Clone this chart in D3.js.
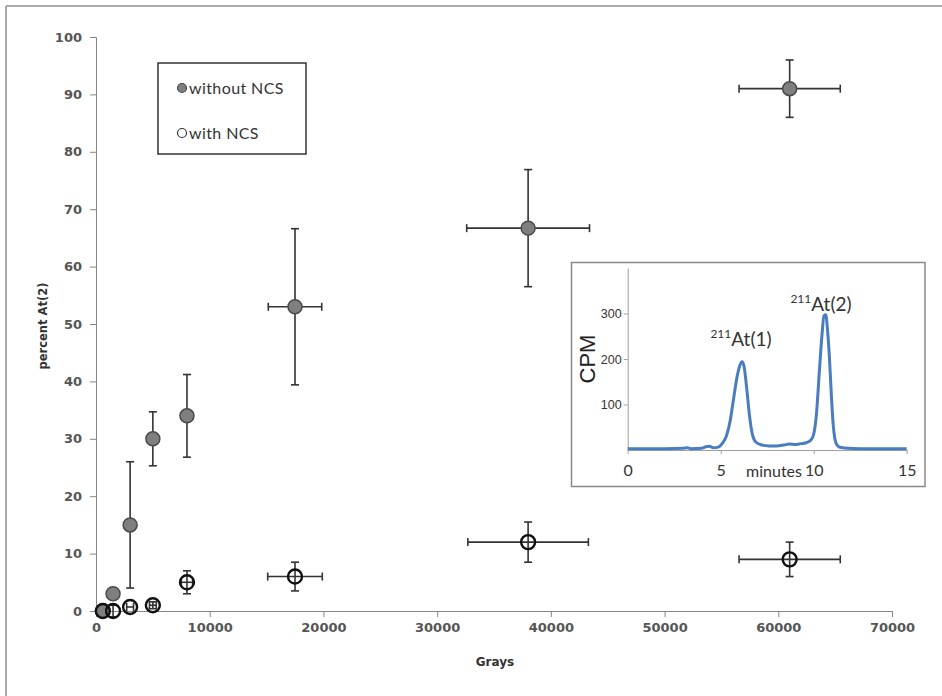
<!DOCTYPE html>
<html>
<head>
<meta charset="utf-8">
<script src="https://cdn.jsdelivr.net/npm/d3@7"></script>
<style>
  body { margin: 0; background: #fff; }
  svg { display: block; }
</style>
</head>
<body>
<div id="chart"></div>
<script>
// main chart data
const doses = [600, 1500, 3000, 5000, 8000, 17500, 38000, 61000];
const withoutNcs = [0, 3, 15, 30, 34, 53, 66.7, 91];
const withoutNcsYErr = [0, 0, 11, 4.7, 7.2, 13.6, 10.2, 5];
const withoutNcsXErr = [0, 0, 0, 0, 500, 2350, 5400, 4450];
const withNcs = [0, 0, 0.7, 1, 5, 6, 12, 9];
const withNcsYErr = [0, 1, 0, 0.6, 2, 2.5, 3.5, 3];
const withNcsXErr = [0, 0, 300, 300, 500, 2400, 5300, 4450];
const xTicks = [0, 10000, 20000, 30000, 40000, 50000, 60000, 70000];
const yTicks = [0, 10, 20, 30, 40, 50, 60, 70, 80, 90, 100];

// inset chromatogram
const chromTime = [0, 1, 2, 3, 3.2, 3.4, 4, 4.2, 4.4, 4.6, 4.9, 5.1, 5.3, 5.5, 5.7, 5.9, 6.05, 6.15, 6.25,
  6.4, 6.55, 6.7, 6.9, 7.2, 7.6, 8.0, 8.4, 8.7, 9.0, 9.3, 9.6, 9.85, 10.0, 10.15, 10.3, 10.45, 10.55,
  10.65, 10.75, 10.85, 10.95, 11.05, 11.2, 11.4, 11.8, 12.5, 13.5, 15];
const chromCpm = [3, 3, 3, 4, 5, 3, 4, 7, 8, 5, 7, 15, 30, 62, 115, 165, 188, 194, 185,
  135, 75, 35, 17, 11, 9, 9, 11, 13, 12, 14, 16, 22, 35, 80, 170, 255, 295,
  297, 260, 200, 120, 55, 15, 6, 4, 3, 3, 3];
const insetXTicks = [0, 5, 10, 15];
const insetYTicks = [100, 200, 300];

const W = 942, H = 696;
const font = "Lato, 'Open Sans', sans-serif";
const wide = "'DejaVu Sans', Verdana, sans-serif";
const arial = "Arial, 'Liberation Sans', sans-serif";
const axisGray = "#868686";

const svg = d3.select("#chart").append("svg")
  .attr("width", W).attr("height", H);

// outer frame (top + left edges visible)
svg.append("line").attr("x1", 6).attr("x2", W).attr("y1", 6).attr("y2", 6)
  .attr("stroke", "#aaa").attr("stroke-width", 2);
svg.append("line").attr("x1", 6).attr("x2", 6).attr("y1", 6).attr("y2", H)
  .attr("stroke", "#aaa").attr("stroke-width", 2);

const x = d3.scaleLinear().domain([0, 70000]).range([96, 892]);
const y = d3.scaleLinear().domain([0, 100]).range([611, 37]);

// axes
const xAxis = svg.append("g")
  .attr("transform", `translate(0, ${y(0)})`)
  .call(d3.axisBottom(x).tickValues(xTicks).tickSize(6).tickPadding(6).tickFormat(d3.format("d")));
const yAxis = svg.append("g")
  .attr("transform", `translate(${x(0)}, 0)`)
  .call(d3.axisLeft(y).tickValues(yTicks).tickSize(6).tickPadding(8));

[xAxis, yAxis].forEach(a => {
  a.select(".domain").attr("stroke", axisGray);
  a.selectAll(".tick line").attr("stroke", axisGray);
  a.selectAll(".tick text")
    .attr("fill", "#555")
    .style("font-family", wide)
    .style("font-size", "13px")
    .style("font-weight", "700");
});

svg.append("text")
  .attr("x", 495).attr("y", 666)
  .attr("text-anchor", "middle")
  .style("font-family", wide).style("font-size", "12px").style("font-weight", "700")
  .attr("fill", "#333")
  .text("Grays");

svg.append("text")
  .attr("transform", "translate(47, 326) rotate(-90)")
  .attr("text-anchor", "middle")
  .style("font-family", wide).style("font-size", "11.5px").style("font-weight", "700")
  .attr("fill", "#333")
  .text("percent At(2)");

// error bars + points
const cap = 4;
const drawSeries = (vals, yErr, xErr, fill, stroke, strokeW) => {
  const g = svg.append("g");
  doses.forEach((d, i) => {
    const cx = x(d), cy = y(vals[i]);
    const eg = g.append("g").attr("stroke", "#333").attr("stroke-width", 1.6);
    if (yErr[i] > 0) {
      const y1 = y(vals[i] + yErr[i]), y2 = y(vals[i] - yErr[i]);
      eg.append("line").attr("x1", cx).attr("x2", cx).attr("y1", y1).attr("y2", y2);
      eg.append("line").attr("x1", cx - cap).attr("x2", cx + cap).attr("y1", y1).attr("y2", y1);
      eg.append("line").attr("x1", cx - cap).attr("x2", cx + cap).attr("y1", y2).attr("y2", y2);
    }
    if (xErr[i] > 0) {
      const x1 = x(d - xErr[i]), x2 = x(d + xErr[i]);
      eg.append("line").attr("x1", x1).attr("x2", x2).attr("y1", cy).attr("y2", cy);
      eg.append("line").attr("x1", x1).attr("x2", x1).attr("y1", cy - cap).attr("y2", cy + cap);
      eg.append("line").attr("x1", x2).attr("x2", x2).attr("y1", cy - cap).attr("y2", cy + cap);
    }
  });
  g.selectAll("circle.pt")
    .data(doses)
    .join("circle")
    .attr("class", "pt")
    .attr("cx", d => x(d))
    .attr("cy", (d, i) => y(vals[i]))
    .attr("r", 7)
    .attr("fill", fill)
    .attr("stroke", stroke)
    .attr("stroke-width", strokeW);
};

drawSeries(withoutNcs, withoutNcsYErr, withoutNcsXErr, "#7f7f7f", "#4a4a4a", 1.5);
drawSeries(withNcs, withNcsYErr, withNcsXErr, "none", "#111", 2.4);

// legend
const legend = svg.append("g");
legend.append("rect")
  .attr("x", 158).attr("y", 63).attr("width", 148).attr("height", 91)
  .attr("fill", "#fff").attr("stroke", "#333").attr("stroke-width", 1.5);
legend.append("circle").attr("cx", 182).attr("cy", 88).attr("r", 4.5)
  .attr("fill", "#7f7f7f").attr("stroke", "#4a4a4a").attr("stroke-width", 1.2);
legend.append("circle").attr("cx", 182).attr("cy", 133).attr("r", 4.5)
  .attr("fill", "none").attr("stroke", "#333").attr("stroke-width", 1.2);
legend.append("text").attr("x", 189).attr("y", 93.5).text("without NCS");
legend.append("text").attr("x", 189).attr("y", 138.5).text("with NCS");
legend.selectAll("text")
  .style("font-family", font).style("font-size", "16px").style("letter-spacing", "0.4px")
  .attr("fill", "#333");

// inset chromatogram
const inset = svg.append("g");
inset.append("rect")
  .attr("x", 571.5).attr("y", 262.5).attr("width", 353.5).attr("height", 224)
  .attr("fill", "#fff").attr("stroke", "#8a8a8a").attr("stroke-width", 1.5);

const xi = d3.scaleLinear().domain([0, 15]).range([627.7, 906.7]);
const yi = d3.scaleLinear().domain([0, 400]).range([450, 268]);

const xiAxis = inset.append("g")
  .attr("transform", `translate(0, ${yi(0)})`)
  .call(d3.axisBottom(xi).tickValues(insetXTicks).tickSize(4).tickPadding(11).tickSizeOuter(0));
const yiAxis = inset.append("g")
  .attr("transform", `translate(${xi(0)}, 0)`)
  .call(d3.axisLeft(yi).tickValues(insetYTicks).tickSize(4).tickPadding(2).tickSizeOuter(0));

[xiAxis, yiAxis].forEach(a => {
  a.select(".domain").attr("stroke", "#a0a0a0");
  a.selectAll(".tick line").attr("stroke", "#a0a0a0");
});
xiAxis.selectAll(".tick text")
  .attr("fill", "#333").style("font-family", font).style("font-size", "16px");
yiAxis.selectAll(".tick text")
  .attr("fill", "#333").style("font-family", arial).style("font-size", "12.5px");

inset.append("text")
  .attr("x", 774).attr("y", 477)
  .attr("text-anchor", "middle")
  .style("font-family", font).style("font-size", "16px").attr("fill", "#333")
  .text("minutes");

inset.append("text")
  .attr("transform", "translate(595, 359) rotate(-90)")
  .attr("text-anchor", "middle")
  .style("font-family", arial).style("font-size", "22px").attr("fill", "#222")
  .text("CPM");

const line = d3.line()
  .x((d, i) => xi(chromTime[i]))
  .y(d => yi(d))
  .curve(d3.curveMonotoneX);

inset.append("path")
  .datum(chromCpm)
  .attr("fill", "none")
  .attr("stroke", "#4a7cc0")
  .attr("stroke-width", 3)
  .attr("stroke-linejoin", "round")
  .attr("d", line);

const peakLabel = (cx, by, tag) => {
  const t = inset.append("text")
    .attr("x", cx).attr("y", by)
    .attr("text-anchor", "middle")
    .style("font-family", font).attr("fill", "#333");
  t.append("tspan").attr("dy", -8).style("font-size", "12px").text("211");
  t.append("tspan").attr("dy", 8).style("font-size", "19px").text(`At(${tag})`);
};
peakLabel(741, 346, 1);
peakLabel(821, 311, 2);
</script>
</body>
</html>
